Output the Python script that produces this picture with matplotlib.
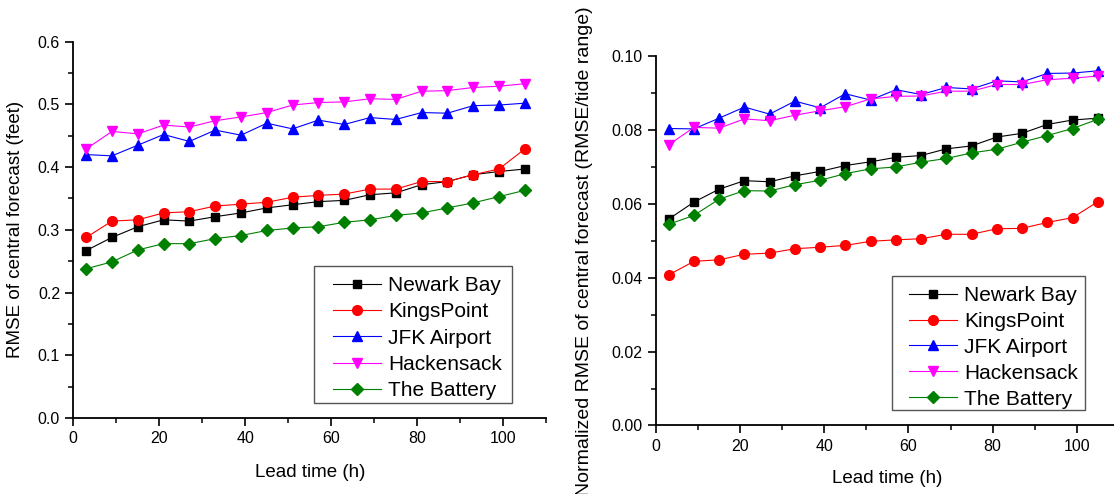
import matplotlib
matplotlib.use("Agg")
import matplotlib.pyplot as plt
from matplotlib.patches import Rectangle
from matplotlib.ticker import MultipleLocator, FormatStrFormatter

plt.rcParams['font.family'] = ['Liberation Sans', 'DejaVu Sans']

lead_time = [3, 9, 15, 21, 27, 33, 39, 45, 51, 57, 63, 69, 75, 81, 87, 93, 99, 105]

station_names = ["Newark Bay", "KingsPoint", "JFK Airport", "Hackensack", "The Battery"]

# RMSE of central forecast (feet)
rmse_newark = [0.267, 0.288, 0.305, 0.316, 0.314, 0.321, 0.327, 0.335, 0.340, 0.345,
               0.347, 0.356, 0.359, 0.372, 0.377, 0.388, 0.393, 0.397]
rmse_kings = [0.288, 0.314, 0.316, 0.327, 0.329, 0.338, 0.341, 0.344, 0.352, 0.355,
              0.357, 0.365, 0.365, 0.377, 0.377, 0.388, 0.397, 0.429]
rmse_jfk = [0.420, 0.418, 0.435, 0.452, 0.441, 0.459, 0.451, 0.470, 0.461, 0.475,
            0.468, 0.479, 0.476, 0.487, 0.486, 0.498, 0.499, 0.502]
rmse_hack = [0.429, 0.457, 0.453, 0.467, 0.464, 0.474, 0.480, 0.487, 0.499, 0.503,
             0.504, 0.509, 0.508, 0.521, 0.522, 0.527, 0.529, 0.533]
rmse_battery = [0.238, 0.249, 0.268, 0.278, 0.278, 0.286, 0.291, 0.299, 0.303, 0.305,
                0.312, 0.316, 0.323, 0.327, 0.335, 0.343, 0.353, 0.363]

# RMSE normalised by tide range
nrmse_newark = [0.0558, 0.0604, 0.0639, 0.0662, 0.0659, 0.0675, 0.0687, 0.0703, 0.0713, 0.0725,
                0.0730, 0.0748, 0.0756, 0.0780, 0.0790, 0.0814, 0.0826, 0.0831]
nrmse_kings = [0.0407, 0.0444, 0.0448, 0.0463, 0.0466, 0.0478, 0.0482, 0.0487, 0.0498, 0.0502,
               0.0505, 0.0517, 0.0517, 0.0532, 0.0533, 0.0549, 0.0562, 0.0605]
nrmse_jfk = [0.0803, 0.0802, 0.0831, 0.0861, 0.0842, 0.0877, 0.0859, 0.0897, 0.0880, 0.0908,
             0.0895, 0.0914, 0.0910, 0.0932, 0.0929, 0.0952, 0.0953, 0.0959]
nrmse_hack = [0.0759, 0.0806, 0.0804, 0.0829, 0.0824, 0.0839, 0.0851, 0.0862, 0.0883, 0.0890,
              0.0891, 0.0904, 0.0904, 0.0922, 0.0922, 0.0935, 0.0939, 0.0945]
nrmse_battery = [0.0544, 0.0568, 0.0612, 0.0635, 0.0634, 0.0651, 0.0663, 0.0681, 0.0694, 0.0699,
                 0.0712, 0.0722, 0.0737, 0.0747, 0.0766, 0.0784, 0.0803, 0.0828]

colors = ["#000000", "#ff0000", "#0000ff", "#ff00ff", "#008000"]
markers = ["s", "o", "^", "v", "D"]
msizes = [6.2, 7.0, 7.5, 7.5, 6.5]

W, H = 1114, 494
fig = plt.figure(figsize=(W / 100, H / 100), dpi=100)
ax1 = fig.add_axes([0.0658, 0.1538, 0.4246, 0.7618])
ax2 = fig.add_axes([0.5889, 0.1387, 0.4154, 0.7486])


def px(x, y):
    """Pixel position (from top-left) to figure fraction."""
    return x / W, 1 - y / H


def style_axes(ax, ymax, ymajor, yminor, fmt, xlabelpad):
    for side in ("top", "right"):
        ax.spines[side].set_visible(False)
    for side in ("left", "bottom"):
        ax.spines[side].set_linewidth(1.3)
    ax.set_xlim(0, 110)
    ax.set_ylim(0, ymax)
    ax.xaxis.set_major_locator(MultipleLocator(20))
    ax.xaxis.set_minor_locator(MultipleLocator(10))
    ax.yaxis.set_major_locator(MultipleLocator(ymajor))
    ax.yaxis.set_minor_locator(MultipleLocator(yminor))
    ax.yaxis.set_major_formatter(FormatStrFormatter(fmt))
    ax.tick_params(which="major", direction="out", length=6, width=1.2, labelsize=11.5)
    ax.tick_params(which="minor", direction="out", length=3.5, width=1.1)
    ax.set_xlabel("Lead time (h)", fontsize=13.5, labelpad=xlabelpad)


def draw(ax, series):
    for name, vals, c, m, ms in zip(station_names, series, colors, markers, msizes):
        ax.plot(lead_time, vals, color=c, marker=m, markersize=ms, linewidth=0.8,
                markeredgecolor=c, label=name, clip_on=False)


def boxed_legend(ax, box_px, anchor_px, spacing):
    x0, y0, x1, y1 = box_px
    fx0, fy1 = px(x0, y1)
    fx1, fy0 = px(x1, y0)
    frame = Rectangle((fx0, fy1), fx1 - fx0, fy0 - fy1, transform=fig.transFigure,
                      facecolor="white", edgecolor="#555555", linewidth=1.0,
                      zorder=5, clip_on=False)
    ax.add_patch(frame)
    leg = ax.legend(loc="upper left", bbox_to_anchor=px(*anchor_px),
                    bbox_transform=fig.transFigure, fontsize=15, frameon=False,
                    handlelength=2.3, handletextpad=0.34, borderpad=0, borderaxespad=0,
                    labelspacing=spacing)
    leg.set_zorder(6)
    return leg


draw(ax1, [rmse_newark, rmse_kings, rmse_jfk, rmse_hack, rmse_battery])
style_axes(ax1, 0.6, 0.1, 0.05, "%.1f", 13)
ax1.set_ylabel("RMSE of central forecast (feet)", fontsize=13.5, labelpad=10)
boxed_legend(ax1, (314.3, 266, 512.3, 403.3), (333, 276), 0.35)

draw(ax2, [nrmse_newark, nrmse_kings, nrmse_jfk, nrmse_hack, nrmse_battery])
style_axes(ax2, 0.10, 0.02, 0.01, "%.2f", 12)
ax2.set_ylabel("Normalized RMSE of central forecast (RMSE/tide range)", fontsize=14)
ax2.yaxis.set_label_coords(-0.137, 0.472)
boxed_legend(ax2, (891.7, 276, 1085, 410), (909, 286), 0.33)

fig.savefig("out.png", dpi=100)
